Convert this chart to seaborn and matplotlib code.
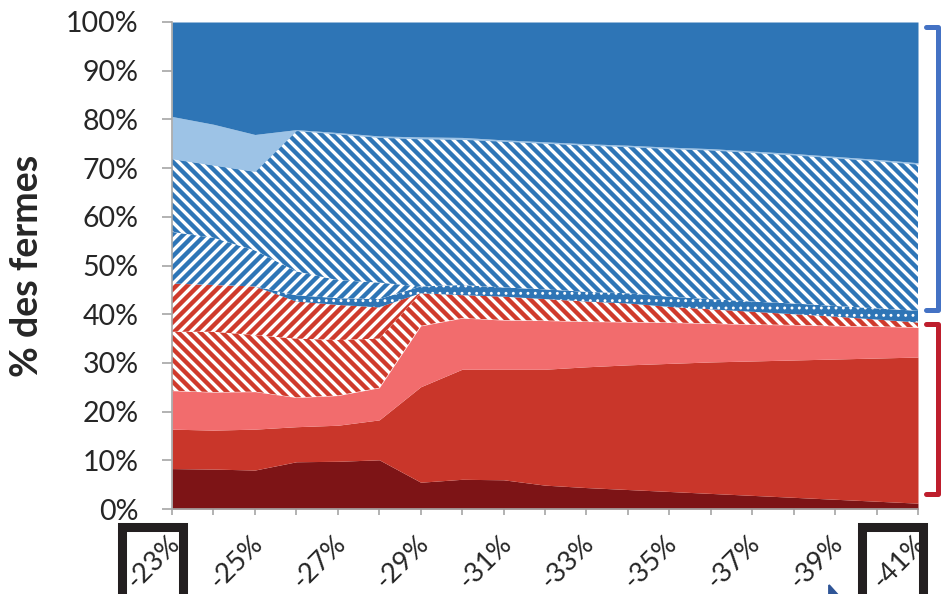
import matplotlib
matplotlib.use("Agg")
import matplotlib.pyplot as plt
import matplotlib.transforms as mtransforms
from matplotlib.lines import Line2D
from matplotlib.patches import Rectangle, Polygon
import seaborn as sns

# Données (% des fermes par catégorie)
baisse = [-23, -24, -25, -26, -27, -28, -29, -30, -31, -32,
          -33, -34, -35, -36, -37, -38, -39, -40, -41]
etiquettes_x = ["-23%", "", "-25%", "", "-27%", "", "-29%", "", "-31%", "",
                "-33%", "", "-35%", "", "-37%", "", "-39%", "", "-41%"]
graduations_y = [0, 10, 20, 30, 40, 50, 60, 70, 80, 90, 100]
etiquettes_y = ["0%", "10%", "20%", "30%", "40%", "50%", "60%", "70%", "80%", "90%", "100%"]

rouge_fonce = [8.3, 8.2, 8.0, 9.7, 9.8, 10.1, 5.5, 6.1, 6.0, 4.9,
               4.4, 4.0, 3.6, 3.2, 2.8, 2.4, 2.0, 1.6, 1.2]
rouge = [8.1, 8.0, 8.4, 7.2, 7.4, 8.2, 19.6, 22.6, 22.7, 23.8,
         24.8, 25.6, 26.3, 27.0, 27.6, 28.2, 28.8, 29.4, 30.0]
rouge_clair = [7.9, 7.8, 7.7, 6.0, 6.1, 6.6, 12.5, 10.5, 10.1, 10.0,
               9.3, 8.8, 8.4, 7.9, 7.5, 7.2, 6.8, 6.5, 6.1]
rouge_hachure_bas = [12.1, 12.4, 11.6, 12.1, 11.4, 10.1, 6.7, 4.7, 4.8, 4.4,
                     4.1, 3.8, 3.2, 2.9, 2.6, 2.2, 1.9, 1.4, 1.0]
rouge_hachure_haut = [9.9, 9.6, 10.0, 7.6, 7.2, 6.4, 0, 0, 0, 0,
                      0, 0, 0, 0, 0, 0, 0, 0, 0]
bleu_points = [0, 0, 0, 1.3, 1.4, 1.7, 1.4, 2.1, 1.9, 2.0,
               2.0, 2.1, 2.1, 2.1, 2.1, 2.2, 2.2, 2.3, 2.4]
bleu_hachure_bas = [10.6, 9.7, 7.4, 4.9, 3.7, 3.4, 0, 0, 0, 0,
                    0, 0, 0, 0, 0, 0, 0, 0, 0]
bleu_hachure_haut = [15.0, 14.9, 16.2, 28.9, 30.0, 29.8, 30.3, 29.9, 30.0, 30.0,
                     30.1, 30.1, 30.4, 30.6, 30.6, 30.5, 30.4, 30.3, 30.1]
bleu_clair = [8.7, 8.4, 7.6, 0.2, 0.3, 0.3, 0.4, 0.4, 0.3, 0.3,
              0.3, 0.3, 0.3, 0.3, 0.3, 0.3, 0.3, 0.3, 0.3]
bleu = [19.4, 21.0, 23.1, 22.1, 22.7, 23.4, 23.6, 23.7, 24.2, 24.6,
        25.0, 25.3, 25.7, 26.0, 26.5, 27.0, 27.6, 28.2, 28.9]

ROUGE_FONCE = "#7D1416"
ROUGE = "#C9362A"
SAUMON = "#F26C6D"
HACH_ROUGE = "#CF3A2C"
BLEU = "#2E75B6"
BLEU_CLAIR = "#9DC3E6"

# dpi choisi pour que l'espacement des hachures ressemble à l'original
DPI = 132
S = 100 / DPI  # tailles données pour 100 dpi

sns.set_theme(style="white")
plt.rcParams["font.family"] = ["Lato", "DejaVu Sans"]
plt.rcParams["hatch.linewidth"] = 2.4

W, H = 941, 594
fig = plt.figure(figsize=(W / DPI, H / DPI), dpi=DPI)
ax = fig.add_axes([172 / W, 1 - 509 / H, (918 - 172) / W, (509 - 22) / H])

couches = [rouge_fonce, rouge, rouge_clair, rouge_hachure_bas, rouge_hachure_haut,
           bleu_points, bleu_hachure_bas, bleu_hachure_haut, bleu_clair, bleu]
fonds = [ROUGE_FONCE, ROUGE, SAUMON, "white", "white",
         BLEU, "white", "white", BLEU_CLAIR, BLEU]
hachures = [None, None, None, "\\\\\\\\", "////", "...", "////", "\\\\\\\\", None, None]
traits = [ROUGE_FONCE, ROUGE, SAUMON, HACH_ROUGE, HACH_ROUGE,
          "white", BLEU, BLEU, BLEU_CLAIR, BLEU]

polys = ax.stackplot(baisse, couches, colors=fonds, hatch=hachures, linewidth=0)
for p, ec in zip(polys, traits):
    p.set_edgecolor(ec)
    p.set_linewidth(0)
# points plus fins pour la bande pointillée
if hasattr(polys[5], "set_hatch_linewidth"):
    polys[5].set_hatch_linewidth(0.8)

ax.set_xlim(-23, -41)
ax.set_ylim(0, 100)
ax.set_xticks(baisse)
ax.set_xticklabels(etiquettes_x, rotation=45, ha="right", va="center",
                   rotation_mode="anchor")
ax.set_yticks(graduations_y)
ax.set_yticklabels(etiquettes_y)
ax.tick_params(axis="x", bottom=True, length=4.3 * S, width=1.2 * S, color="#A6A6A6",
               pad=18 * S, labelsize=19.5 * S, labelcolor="#262626")
ax.tick_params(axis="y", left=True, length=7.2 * S, width=1.2 * S, color="#A6A6A6",
               pad=17 * S, labelsize=20.5 * S, labelcolor="#262626")
decalage = mtransforms.ScaledTranslation(4 / DPI, 0, fig.dpi_scale_trans)
for lab in ax.get_xticklabels():
    lab.set_transform(lab.get_transform() + decalage)

for cote in ["top", "right"]:
    ax.spines[cote].set_visible(False)
for cote in ["left", "bottom"]:
    ax.spines[cote].set_color("#A6A6A6")
    ax.spines[cote].set_linewidth(1.2 * S)

ax.set_ylabel("% des fermes", fontsize=27 * S, fontweight="bold", color="#262626",
              va="center")
ax.yaxis.set_label_coords((27.5 - 172) / 746, 0.5)


def fx(x):
    return x / W


def fy(y):
    return 1 - y / H


# accolades à droite
for (y0, y1, c) in [(27, 310, "#4472C4"), (324, 494, "#BE1E2D")]:
    fig.add_artist(Line2D([fx(926), fx(938), fx(938), fx(926)],
                          [fy(y0), fy(y0), fy(y1), fy(y1)], color=c, lw=3.6 * S,
                          solid_joinstyle="round", solid_capstyle="round"))

# cadres autour des étiquettes extrêmes
for x0 in [121.5, 861.5]:
    fig.add_artist(Rectangle((fx(x0), fy(600)), 61.5 / W, (600 - 526.5) / H,
                             fill=False, edgecolor="#231F20", lw=6.5 * S, zorder=10))

# pointe de flèche coupée en bas
fig.add_artist(Polygon([(fx(829), fy(585)), (fx(829), fy(595)), (fx(838), fy(595))],
                       closed=True, color="#2F5597"))

fig.savefig("out.png", dpi=DPI)
